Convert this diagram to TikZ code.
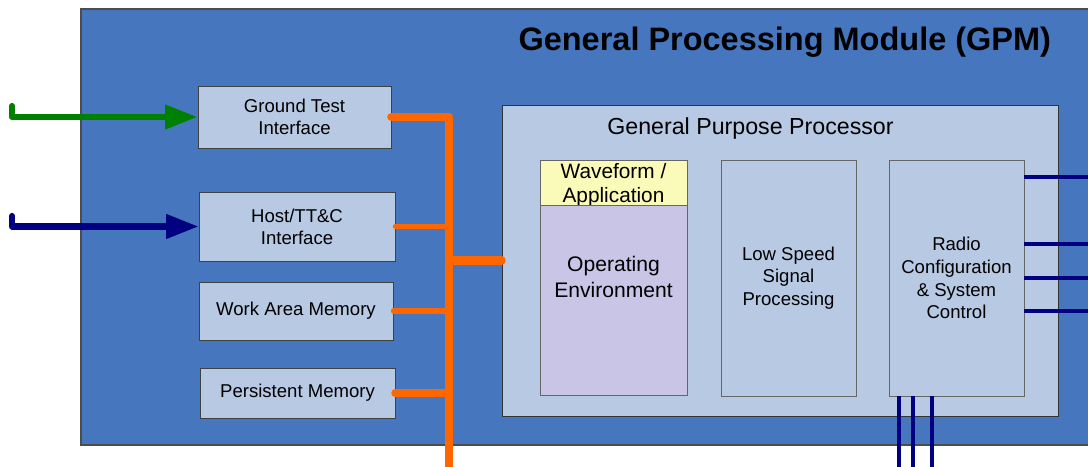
\documentclass[tikz,border=0pt]{standalone}
\usepackage{fontspec}
\setmainfont{Liberation Sans}
\usepackage{xcolor}
\usetikzlibrary{positioning,arrows.meta}
\definecolor{gpmblue}{RGB}{70,119,190}
\definecolor{boxblue}{RGB}{184,201,227}
\definecolor{wfyellow}{RGB}{250,250,185}
\definecolor{oelav}{RGB}{200,197,230}
\definecolor{busorange}{RGB}{255,102,0}
\definecolor{sigblue}{RGB}{0,0,128}
\definecolor{gtgreen}{RGB}{0,128,0}
\tikzset{
  ifbox/.style={draw=black!75,line width=0.6pt,fill=boxblue,inner sep=0pt,align=center,
    font=\fontsize{13.2}{15.8}\selectfont},
  inbox/.style={ifbox,draw=black!60},
  inarrow/.style={line width=4.4pt,line cap=round,line join=round,
    -{Triangle[length=23pt,width=16.5pt]}},
  busthick/.style={busorange,line width=6pt,line cap=round},
  busthin/.style={busorange,line width=3.8pt,line cap=round},
  sigline/.style={sigblue,line width=2.5pt}
}
\begin{document}
\begin{tikzpicture}[x=0.025cm,y=-0.025cm]
\useasboundingbox (0,0) rectangle (1088,467);
\fill [white] (0,0) rectangle (1088,467);
\clip (0,0) rectangle (1088,467);
\filldraw [fill=gpmblue,draw=black!70,line width=0.8pt] (81,9) rectangle (1100,445);
\node [anchor=east,font=\fontsize{23.1}{28}\selectfont\bfseries] (gpmtitle) at (1056,42) {General Processing Module (GPM)};

\node [ifbox,minimum width=137.3pt,minimum height=44.1pt] (gt) at (294.5,117) {Ground Test\\Interface};
\node [ifbox,minimum width=139.4pt,minimum height=49.1pt] (host) at (297,226.5) {Host/TT\&C\\Interface};
\node [ifbox,minimum width=138pt,minimum height=41.3pt] (work) at (296,311) {Work Area Memory};
\node [ifbox,minimum width=138.7pt,minimum height=35.6pt] (pers) at (297.5,393) {Persistent Memory};

\node [ifbox,draw=black!80,minimum width=395.5pt,minimum height=221.2pt] (gpp) at (780,260.5) {};
\node [font=\fontsize{16.5}{19}\selectfont] (gpptitle) at (750.5,129) {General Purpose Processor};

\node [inbox,fill=wfyellow,minimum width=104.6pt,minimum height=32pt] (wf) at (613.5,182.5) {};
\node [align=center,font=\fontsize{14.8}{17}\selectfont] (wftext) at (613.5,185) {Waveform /\\Application};
\node [inbox,fill=oelav,minimum width=104.6pt,minimum height=135.1pt] (oe) at (613.5,300) {};
\node [align=center,font=\fontsize{15}{18.5}\selectfont] (oetext) at (613.5,277) {Operating\\Environment};
\node [inbox,minimum width=96pt,minimum height=167.9pt] (lss) at (788.5,278) {Low Speed\\Signal\\Processing};
\node [inbox,minimum width=96pt,minimum height=167.9pt,font=\fontsize{13.2}{16.2}\selectfont] (radio) at (956.5,278) {Radio\\Configuration\\\& System\\Control};

\coordinate (gtin) at (12,106);
\coordinate (hostin) at (12,216);
\draw [inarrow,gtgreen] (gtin) -- (gtin |- gt.west) -- (gt.west);
\draw [inarrow,sigblue] (hostin) -- (hostin |- host.west) -- (host.west);

\coordinate (bustop) at (449,117);
\coordinate (busend) at (449,470);
\draw [busthick,line join=round] (gt.east) -- (bustop) -- (busend);
\draw [busthin] (host.east) -- (host.east -| bustop);
\draw [busthin] (work.east) -- (work.east -| bustop);
\draw [busthick] (pers.east) -- (pers.east -| bustop);
\draw [busthick] (bustop |- gpp.west) -- (gpp.west);

\foreach \i/\y in {1/177,2/244,3/278,4/311}{
  \coordinate (rout\i) at (1095,\y);
  \draw [sigline] (radio.east |- rout\i) -- (rout\i);
}
\foreach \i/\x in {1/899,2/913,3/932}{
  \coordinate (rbot\i) at (\x,470);
  \draw [sigline] (radio.south -| rbot\i) -- (rbot\i);
}
\end{tikzpicture}
\end{document}
